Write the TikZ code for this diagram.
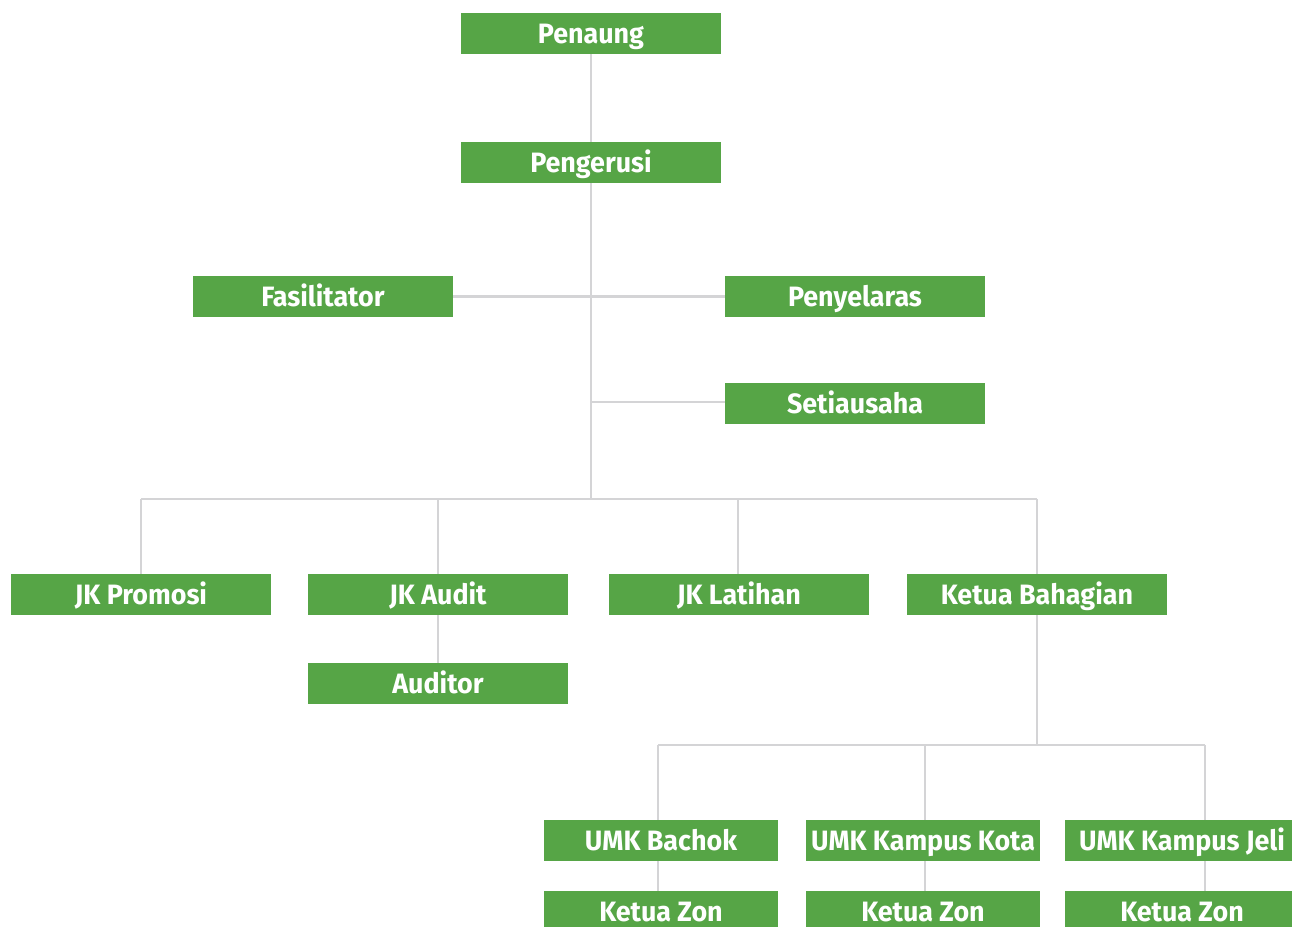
\documentclass[tikz,border=0pt]{standalone}
\usepackage{fontspec}
\setmainfont{Fira Sans}[FakeStretch=0.96]
\definecolor{boxgreen}{HTML}{56A546}
\definecolor{linegray}{HTML}{D4D4D6}
\pgfdeclarelayer{bg}
\pgfsetlayers{bg,main}
\begin{document}
\begin{tikzpicture}[x=1pt,y=-1pt,
  box/.style={fill=boxgreen,text=white,font=\fontsize{28}{30}\selectfont\bfseries,
    minimum height=41pt,inner sep=0pt,text height=21pt,text depth=2pt,anchor=center},
  wide/.style={box,minimum width=260pt},
  umk/.style={box,minimum width=234pt},
  conn/.style={draw=linegray,line width=2.6pt}]
\useasboundingbox (0,0) rectangle (1292,926);
\clip (0,0) rectangle (1292,926);
% nodes
\node[wide] (penaung) at (591,33.5) {Penaung};
\node[wide] (pengerusi) at (591,162.5) {Pengerusi};
\node[wide] (fasil) at (323,296.5) {Fasilitator};
\node[wide] (penyel) at (855,296.5) {Penyelaras};
\node[wide] (setia) at (855,403.5) {Setiausaha};
\node[wide] (promosi) at (141,594.5) {JK Promosi};
\node[wide] (audit) at (438,594.5) {JK Audit};
\node[wide] (latihan) at (739,594.5) {JK Latihan};
\node[wide] (bahagian) at (1037,594.5) {Ketua Bahagian};
\node[wide] (auditor) at (438,683.5) {Auditor};
\node[umk] (bachok) at (661,840.5) {UMK Bachok};
\node[umk] (kota) at (923,840.5) {UMK Kampus Kota};
\node[umk] (jeli) at (1182,840.5) {UMK Kampus Jeli};
\node[umk] (zon1) at (661,911.5) {Ketua Zon};
\node[umk] (zon2) at (923,911.5) {Ketua Zon};
\node[umk] (zon3) at (1182,911.5) {Ketua Zon};
% junction coordinates
\coordinate (spine) at (591,499);
\coordinate (setj) at (591,402);
\coordinate (busL) at (141,499);
\coordinate (busR) at (1037,499);
\coordinate (busLat) at (738,499);
\coordinate (kbus) at (1037,745);
\coordinate (kbusL) at (658,745);
\coordinate (kbusM) at (925,745);
\coordinate (kbusR) at (1205,745);
\coordinate (zl1) at (658,861);
\coordinate (zl2) at (925,861);
\coordinate (zl3) at (1205,861);
\begin{pgfonlayer}{bg}
\path[conn] (penaung.south) -- (pengerusi.north);
\path[conn] (pengerusi.south) -- (spine);
\path[conn] (fasil.east) -- (penyel.west);
\path[conn] (setj) -- (setj -| setia.west);
\path[conn] (busL) -- (busR);
\path[conn] (busL) -- (promosi.north -| busL);
\path[conn] (audit.north |- spine) -- (audit.north);
\path[conn] (busLat) -- (busLat |- latihan.north);
\path[conn] (busR) -- (bahagian.north);
\path[conn] (audit.south) -- (auditor.north);
\path[conn] (bahagian.south) -- (kbus);
\path[conn] (kbusL) -- (kbusR);
\path[conn] (kbusL) -- (kbusL |- bachok.north);
\path[conn] (kbusM) -- (kbusM |- kota.north);
\path[conn] (kbusR) -- (kbusR |- jeli.north);
\path[conn] (zl1) -- (zl1 |- zon1.north);
\path[conn] (zl2) -- (zl2 |- zon2.north);
\path[conn] (zl3) -- (zl3 |- zon3.north);
\end{pgfonlayer}
\end{tikzpicture}
\end{document}
